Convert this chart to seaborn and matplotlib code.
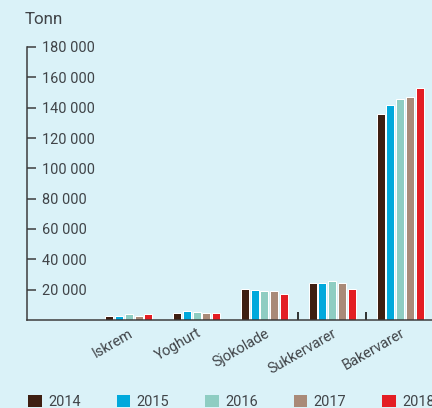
import matplotlib
matplotlib.use("Agg")
import matplotlib.pyplot as plt
from matplotlib.patches import Patch
from matplotlib.ticker import FuncFormatter, FixedLocator
import pandas as pd
import seaborn as sns

categories = ["Iskrem", "Yoghurt", "Sjokolade", "Sukkervarer", "Bakervarer"]
years = ["2014", "2015", "2016", "2017", "2018"]
tonn_2014 = [2600, 4600, 20400, 24400, 136000]
tonn_2015 = [2600, 5900, 19800, 24400, 142000]
tonn_2016 = [4000, 5300, 19100, 26000, 146000]
tonn_2017 = [2600, 4600, 19100, 24400, 147000]
tonn_2018 = [4000, 4600, 17100, 20400, 153000]
y_ticks = [20000, 40000, 60000, 80000, 100000, 120000, 140000, 160000, 180000]

colors = ["#3e1f12", "#00a9dc", "#8ecdc2", "#a98a78", "#e31e24"]
bg = "#daf2f8"
txt = "#404448"

rows = []
for yr, vals in zip(years, [tonn_2014, tonn_2015, tonn_2016, tonn_2017, tonn_2018]):
    for cat, v in zip(categories, vals):
        rows.append({"kategori": cat, "år": yr, "tonn": v})
df = pd.DataFrame(rows)

sns.set_style("ticks")
plt.rcParams["font.family"] = ["Roboto", "DejaVu Sans"]

fig = plt.figure(figsize=(6, 408 / 72), dpi=72, facecolor=bg)
ax = fig.add_axes([27 / 432, 1 - 320 / 408, 407 / 432, 273 / 408])
ax.set_facecolor(bg)

sns.barplot(data=df, x="kategori", y="tonn", hue="år", order=categories,
            hue_order=years, palette=colors, saturation=1, width=0.72,
            gap=0.18, legend=False, ax=ax)

ax.set_xlim(-1.5, 4.5)
ax.set_ylim(0, 180000)
ax.set_xlabel("")
ax.set_ylabel("")
for s in ["top", "right"]:
    ax.spines[s].set_visible(False)
ax.spines["left"].set_color("#3a3a3a")
ax.spines["bottom"].set_color("#3a3a3a")
ax.spines["left"].set_linewidth(1.5)
ax.spines["bottom"].set_linewidth(1.5)

ax.yaxis.set_major_locator(FixedLocator(y_ticks))
ax.yaxis.set_major_formatter(FuncFormatter(lambda v, p: f"{int(v):,}".replace(",", " ")))
ax.tick_params(axis="y", direction="in", length=9, width=1.5, color="#3a3a3a",
               pad=-15, labelsize=14.5, labelcolor=txt)
for lab in ax.get_yticklabels():
    lab.set_horizontalalignment("left")

ax.tick_params(axis="x", length=0, labelsize=14.5, labelcolor=txt, pad=6)
ax.set_xticks(range(len(categories)))
ax.set_xticklabels(categories, rotation=30, ha="right", rotation_mode="anchor")
ax.set_xticks([2.5, 3.5], minor=True)
ax.tick_params(axis="x", which="minor", direction="in", length=8, width=1.8,
               color="#222222")

fig.text(25 / 432, 1 - 20 / 408, "Tonn", fontsize=17, color=txt, va="center")

handles = [Patch(facecolor=c, edgecolor="none") for c in colors]
fig.legend(handles, years, loc="lower left", bbox_to_anchor=(15 / 432, -14 / 408),
           ncol=5, frameon=False, fontsize=14.5, labelcolor=txt,
           handlelength=0.95, handleheight=0.95, handletextpad=0.45,
           columnspacing=2.45)

fig.savefig("out.png", dpi=72, facecolor=bg)
